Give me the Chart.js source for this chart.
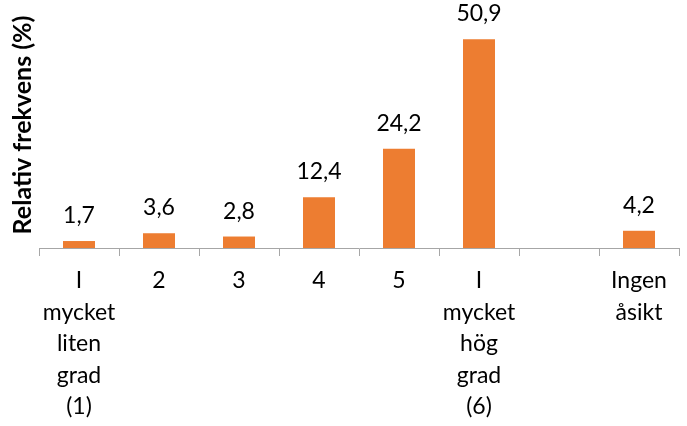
<!DOCTYPE html>
<html>
<head>
<meta charset="utf-8">
<script src="https://cdn.jsdelivr.net/npm/chart.js@4"></script>
<style>
  html, body { margin: 0; padding: 0; background: #fff; }
  #wrap { width: 687px; height: 426px; }
</style>
</head>
<body>
<div id="wrap"><canvas id="myChart"></canvas></div>
<script>
const labels = [
    ['I', 'mycket', 'liten', 'grad', '(1)'],
    '2', '3', '4', '5',
    ['I', 'mycket', 'hög', 'grad', '(6)'],
    '',
    ['Ingen', 'åsikt']
];
const values = [1.7, 3.6, 2.8, 12.4, 24.2, 50.9, null, 4.2];
const yTitle = 'Relativ frekvens (%)';

const ctx = document.getElementById('myChart');

// skriver värdet ovanför varje stapel
const valueLabels = {
    id: 'valueLabels',
    afterDatasetsDraw(chart) {
        const c = chart.ctx;
        const meta = chart.getDatasetMeta(0);
        c.save();
        c.font = '23px Lato';
        c.fillStyle = '#000';
        c.textAlign = 'center';
        c.textBaseline = 'alphabetic';
        meta.data.forEach((bar, i) => {
            if (values[i] == null) return;
            c.fillText(values[i].toFixed(1).replace('.', ','), bar.x, bar.y - 18);
        });
        c.restore();
    }
};

new Chart(ctx, {
    type: 'bar',
    data: {
        labels: labels,
        datasets: [{
            data: values,
            backgroundColor: '#ED7D31',
            categoryPercentage: 1,
            barPercentage: 0.4
        }]
    },
    options: {
        responsive: true,
        maintainAspectRatio: false,
        animation: false,
        layout: { padding: { top: 2, right: 8, left: 0, bottom: 0 } },
        plugins: {
            legend: { display: false },
            tooltip: { enabled: false }
        },
        scales: {
            x: {
                afterFit(scale) { scale.height = 178; },
                grid: {
                    offset: true,
                    drawOnChartArea: false,
                    drawTicks: true,
                    tickLength: 8,
                    color: '#A6A6A6'
                },
                border: { color: '#A6A6A6' },
                ticks: {
                    color: '#000',
                    font: { family: 'Lato', size: 23, lineHeight: 1.37 },
                    maxRotation: 0,
                    autoSkip: false,
                    padding: 9
                }
            },
            y: {
                min: 0,
                max: 60,
                afterFit(scale) { scale.width = 39; },
                grid: { display: false },
                border: { display: false },
                ticks: { display: false },
                title: {
                    display: true,
                    text: yTitle,
                    color: '#000',
                    font: { family: 'Lato', size: 25, weight: 'bold' },
                    padding: { top: 8, bottom: 0 }
                }
            }
        }
    },
    plugins: [valueLabels]
});
</script>
</body>
</html>
